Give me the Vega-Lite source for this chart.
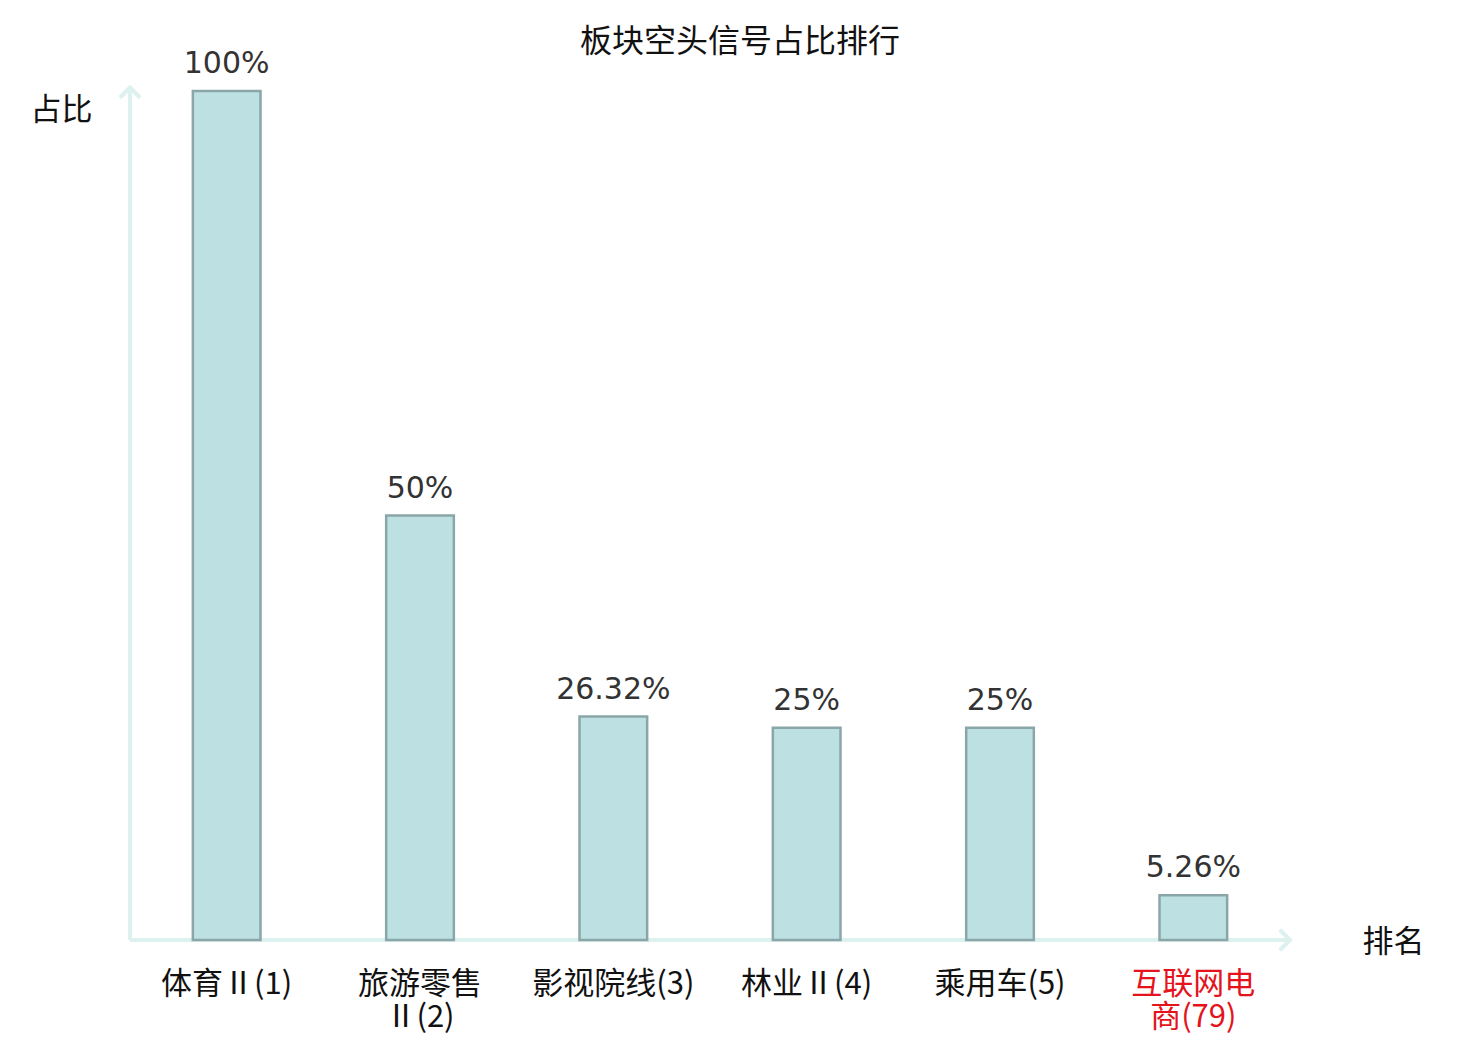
{
  "$schema": "https://vega.github.io/schema/vega-lite/v6.json",
  "autosize": {"type": "none"},
  "width": 1160,
  "height": 849,
  "padding": {"left": 130, "top": 91, "right": 190, "bottom": 100},
  "background": "white",
  "title": {
    "text": "板块空头信号占比排行",
    "font": "Noto Sans CJK SC",
    "fontSize": 32,
    "fontWeight": "normal",
    "color": "#111111",
    "anchor": "middle",
    "dx": 30,
    "offset": -10
  },
  "data": {
    "values": [
      {"name": "体育Ⅱ(1)", "ratio": 1},
      {"name": "旅游零售|Ⅱ(2)", "ratio": 0.5},
      {"name": "影视院线(3)", "ratio": 0.2632},
      {"name": "林业Ⅱ(4)", "ratio": 0.25},
      {"name": "乘用车(5)", "ratio": 0.25},
      {"name": "互联网电|商(79)", "ratio": 0.0526}
    ]
  },
  "resolve": {"scale": {"x": "independent"}},
  "layer": [
    {
      "layer": [
        {
          "mark": {"type": "rule", "color": "#ddf1ee", "strokeWidth": 4},
          "encoding": {
            "x": {"datum": 0, "type": "quantitative", "scale": {"domain": [0, 1], "nice": false}, "axis": null},
            "y": {"datum": 0, "type": "quantitative"},
            "y2": {"datum": 1.004}
          }
        },
        {
          "mark": {"type": "rule", "color": "#ddf1ee", "strokeWidth": 4},
          "encoding": {
            "x": {"datum": 0, "type": "quantitative"},
            "x2": {"datum": 1},
            "y": {"datum": 0, "type": "quantitative"}
          }
        },
        {
          "mark": {"type": "point", "shape": "M-1,1L0,0L1,1", "size": 400, "filled": false, "stroke": "#ddf1ee", "strokeWidth": 3.5, "opacity": 1},
          "encoding": {
            "x": {"datum": 0, "type": "quantitative"},
            "y": {"datum": 1.004, "type": "quantitative"}
          }
        },
        {
          "mark": {"type": "point", "shape": "M-1,1L0,0L1,1", "size": 400, "angle": 90, "filled": false, "stroke": "#ddf1ee", "strokeWidth": 3.5, "opacity": 1},
          "encoding": {
            "x": {"datum": 1, "type": "quantitative"},
            "y": {"datum": 0, "type": "quantitative"}
          }
        }
      ]
    },
    {
      "encoding": {
        "x": {
          "field": "name",
          "type": "nominal",
          "sort": null,
          "scale": {"paddingInner": 0.65, "paddingOuter": 0.325},
          "axis": {
            "orient": "bottom",
            "labelAngle": 0,
            "labelFont": "Noto Sans CJK SC",
            "labelFontSize": 31,
            "labelLineHeight": 33,
            "labelPadding": 29,
            "labelLimit": 300,
            "labelExpr": "split(datum.label, '|')",
            "labelColor": {"condition": {"test": "datum.value == '互联网电|商(79)'", "value": "#e5131b"}, "value": "#111111"},
            "ticks": false,
            "domain": false,
            "title": "排名",
            "titleFont": "Noto Sans CJK SC",
            "titleFontSize": 31,
            "titleFontWeight": "normal",
            "titleColor": "#111111",
            "titleX": 1232,
            "titleY": 2,
            "titleAlign": "left",
            "titleBaseline": "middle"
          }
        },
        "y": {
          "field": "ratio",
          "type": "quantitative",
          "scale": {"domain": [0, 1], "nice": false},
          "axis": {
            "orient": "left",
            "labels": false,
            "ticks": false,
            "domain": false,
            "grid": false,
            "title": "占比",
            "titleFont": "Noto Sans CJK SC",
            "titleFontSize": 31,
            "titleFontWeight": "normal",
            "titleColor": "#111111",
            "titleAngle": 0,
            "titleX": -38,
            "titleY": 19,
            "titleAlign": "right",
            "titleBaseline": "middle"
          }
        }
      },
      "layer": [
        {
          "mark": {"type": "bar", "fill": "#bde0e3", "stroke": "#8aa6a8", "strokeWidth": 2.5}
        },
        {
          "mark": {"type": "text", "font": "DejaVu Sans", "fontSize": 30, "color": "#333333", "baseline": "alphabetic", "dy": -18},
          "encoding": {
            "text": {"field": "ratio", "type": "quantitative", "format": ".2~%"}
          }
        }
      ]
    }
  ],
  "config": {
    "view": {"stroke": null}
  }
}
